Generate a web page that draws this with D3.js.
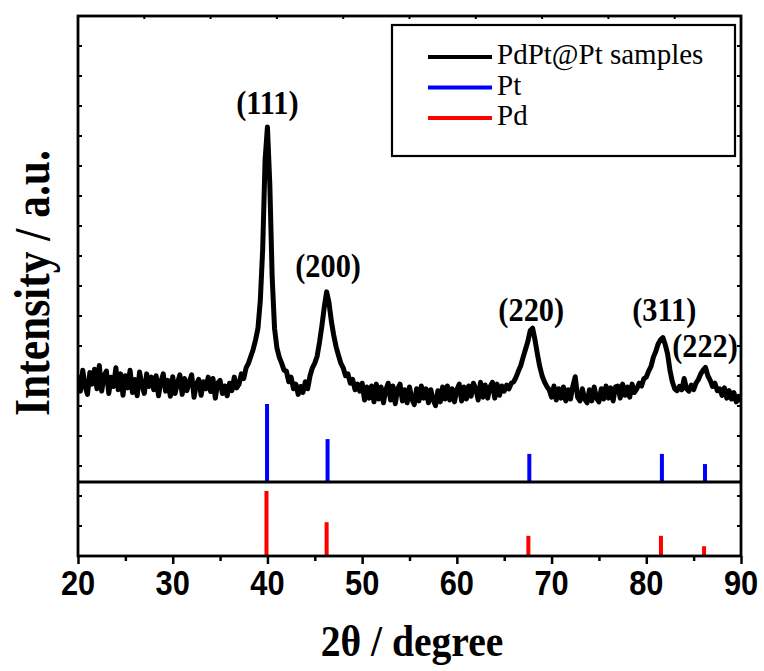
<!DOCTYPE html>
<html><head><meta charset="utf-8">
<script src="https://cdnjs.cloudflare.com/ajax/libs/d3/7.8.5/d3.min.js"></script>
<style>
html,body{margin:0;padding:0;background:#fff;}
svg{display:block;}
</style></head>
<body>
<svg id="chart" width="764" height="671"></svg>
<script>
// ---------------- data ----------------
const scanStart = 20;      // 2θ of first sample
const scanStep = 0.25;     // 2θ step of the scan
// measured intensity (a.u.), one value per step from 20° to 90°
const intensity = [
  230,195,240,205, 188,235,210,242, 200,250,195,228, 238,190,225,205,
  245,198,232,186, 228,202,240,192, 220,185,236,208, 190,232,205,225,
  198,228,185,215, 232,195,218,184, 226,190,212,230, 188,222,196,215,
  230,182,210,220, 186,215,200,225, 194,222,180,212, 218,190,206,185,
  212,196,225,202, 210,232,222,245, 255,270,285,305, 330,390,500,690,
  762,640,440,330, 288,268,255,240, 238,215,225,200, 210,188,205,192,
  215,200,228,245, 255,270,300,335, 375,408,385,345, 315,290,272,255,
  245,228,232,212, 220,198,210,195, 212,176,204,180, 206,172,210,178,
  204,170,198,212, 176,206,168,200, 210,174,198,170, 204,178,166,200,
  174,206,180,200, 170,198,176,164, 196,172,204,178, 206,176,200,172,
  198,210,174,204, 178,206,184,212, 200,176,214,182, 208,180,204,214,
  180,210,186,206, 195,208,200,212, 215,225,238,250, 268,285,302,325,
  330,305,275,248, 228,215,205,198, 182,206,176,200, 180,204,174,198,
  178,206,226,182, 174,200,178,170, 198,174,204,180, 172,200,178,206,
  180,202,174,204, 206,180,210,186, 204,182,210,192, 200,212,206,222,
  225,238,248,268, 280,296,305,310, 295,275,240,215, 200,196,205,198,
  222,200,195,208, 198,212,220,232, 240,246,228,218, 205,212,196,200,
  186,202,180,196, 178,192,172,184, 172
];
const refPos = { Pt: [39.96, 46.35, 67.65, 81.65, 86.2], Pd: [39.9, 46.25, 67.55, 81.55, 86.1] };
const ptRel = [100, 55, 36, 36, 23];
const pdRel = [100, 52, 31, 31, 15];
const peakLabels = ["(111)", "(200)", "(220)", "(311)", "(222)"];
const peakLabelX = [40.0, 46.4, 67.85, 81.9, 86.2];
const peakLabelI = [790, 440, 345, 345, 268];
const xTicks = [20, 30, 40, 50, 60, 70, 80, 90];
const legendNames = ["PdPt@Pt samples", "Pt", "Pd"];
const legendColors = ["#000000", "#0000ff", "#ff0000"];

// ---------------- layout ----------------
const L = 78, R = 741, T = 16, B = 556, MID = 482;
const svg = d3.select("#chart");
const x = d3.scaleLinear().domain([20, 90]).range([L, R]);
const yTop = d3.scaleLinear().domain([0, 1000]).range([MID, T]);
const yPt = d3.scaleLinear().domain([0, 100]).range([MID, 404]);
const yPd = d3.scaleLinear().domain([0, 100]).range([B, 491]);
const serif = "'Liberation Serif','Times New Roman',serif";

const pts = intensity.map((v, i) => [scanStart + i * scanStep, v]);

svg.append("defs").append("clipPath").attr("id", "clip")
  .append("rect").attr("x", L).attr("y", T).attr("width", R - L).attr("height", MID - T);

// curve
svg.append("path").datum(pts)
  .attr("clip-path", "url(#clip)")
  .attr("fill", "none").attr("stroke", "#000").attr("stroke-width", 5)
  .attr("stroke-linejoin", "round")
  .attr("d", d3.line().x(d => x(d[0])).y(d => yTop(d[1])));

// Pt sticks
svg.append("g").selectAll("line").data(ptRel).join("line")
  .attr("x1", (d, i) => x(refPos.Pt[i])).attr("x2", (d, i) => x(refPos.Pt[i]))
  .attr("y1", yPt(0)).attr("y2", d => yPt(d))
  .attr("stroke", "#0000ff").attr("stroke-width", 4);
// Pd sticks
svg.append("g").selectAll("line").data(pdRel).join("line")
  .attr("x1", (d, i) => x(refPos.Pd[i])).attr("x2", (d, i) => x(refPos.Pd[i]))
  .attr("y1", yPd(0)).attr("y2", d => yPd(d))
  .attr("stroke", "#ff0000").attr("stroke-width", 4);

// axes
const xAxis = d3.axisBottom(x).tickValues(d3.range(20, 91, 5)).tickSizeInner(0).tickSizeOuter(0).tickFormat("");
const gx = svg.append("g").attr("transform", `translate(0,${B})`).call(xAxis);
gx.select(".domain").remove();
gx.selectAll(".tick line").attr("y2", d => d % 10 === 0 ? 8 : 5).attr("stroke", "#000").attr("stroke-width", 2.5);
svg.append("g").selectAll("text").data(xTicks).join("text")
  .attr("transform", d => `translate(${x(d)},${B + 39}) scale(0.88,1)`)
  .attr("text-anchor", "middle")
  .attr("font-family", "'Liberation Sans',Arial,sans-serif")
  .attr("font-weight", "bold").attr("font-size", 35)
  .text(d => d);

// minor frame ticks
const yDummy = d3.scaleLinear().domain([0, 18]).range([B, T]);
const sideTicks = d3.range(1, 18);
svg.append("g").selectAll("line").data(sideTicks).join("line")
  .attr("x1", L).attr("x2", L + 4).attr("y1", d => yDummy(d)).attr("y2", d => yDummy(d))
  .attr("stroke", "#000").attr("stroke-width", 2);
svg.append("g").selectAll("line").data(sideTicks).join("line")
  .attr("x1", R).attr("x2", R - 4).attr("y1", d => yDummy(d)).attr("y2", d => yDummy(d))
  .attr("stroke", "#000").attr("stroke-width", 2);
const topDummy = d3.scaleLinear().domain([0, 10]).range([L, R]);
svg.append("g").selectAll("line").data(d3.range(1, 10)).join("line")
  .attr("x1", d => topDummy(d)).attr("x2", d => topDummy(d)).attr("y1", T).attr("y2", T + 3)
  .attr("stroke", "#000").attr("stroke-width", 2);

// frame
svg.append("rect").attr("x", L).attr("y", T).attr("width", R - L).attr("height", B - T)
  .attr("fill", "none").attr("stroke", "#000").attr("stroke-width", 2.8);
svg.append("line").attr("x1", L).attr("x2", R).attr("y1", MID).attr("y2", MID)
  .attr("stroke", "#000").attr("stroke-width", 2.8);

// peak labels
svg.append("g").selectAll("text").data(peakLabels).join("text")
  .attr("transform", (d, i) => `translate(${x(peakLabelX[i])},${yTop(peakLabelI[i])}) scale(0.92,1)`)
  .attr("text-anchor", "middle")
  .attr("font-family", serif)
  .attr("font-weight", "bold").attr("font-size", 33)
  .text(d => d);

// legend
const lg = svg.append("g");
lg.append("rect").attr("x", 392).attr("y", 25).attr("width", 343).attr("height", 131)
  .attr("fill", "#fff").attr("stroke", "#000").attr("stroke-width", 2.2);
legendNames.forEach((n, i) => {
  const yy = 57 + i * 30.5;
  lg.append("line").attr("x1", 428).attr("x2", 492).attr("y1", yy).attr("y2", yy)
    .attr("stroke", legendColors[i]).attr("stroke-width", 4);
  lg.append("text").attr("x", 497).attr("y", yy + 7)
    .attr("font-family", serif)
    .attr("font-size", 29).text(n);
});

// axis titles
svg.append("text").attr("transform", "translate(412,656) scale(0.9,1)").attr("text-anchor", "middle")
  .attr("font-family", serif)
  .attr("font-weight", "bold").attr("font-size", 44)
  .text("2θ / degree");
svg.append("text").attr("transform", "translate(49,283) rotate(-90) scale(0.87,1)")
  .attr("text-anchor", "middle")
  .attr("font-family", serif)
  .attr("font-weight", "bold").attr("font-size", 50)
  .text("Intensity / a.u.");
</script>
</body></html>
